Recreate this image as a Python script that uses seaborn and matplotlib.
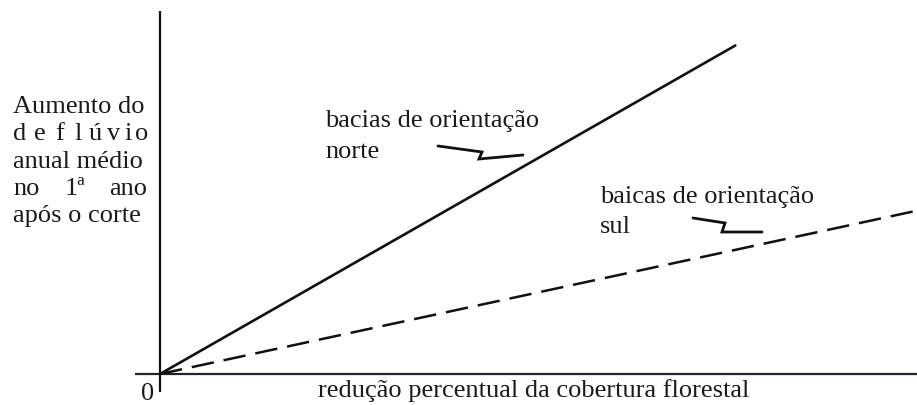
import matplotlib
matplotlib.use("Agg")
import matplotlib.pyplot as plt
from matplotlib.lines import Line2D
import numpy as np
import pandas as pd
import seaborn as sns

# Schematic relationship: runoff increase vs. percent forest-cover reduction
reducao_norte = [0, 76]
aumento_norte = [0, 90.5]
reducao_sul = [0, 100]
aumento_sul = [0, 45]

rotulo_x = "redução percentual da cobertura florestal"
rotulo_y_linhas = ["Aumento do", "deflúvio", "anual médio", "no 1ª ano", "após o corte"]
texto_norte = ["bacias de orientação", "norte"]
texto_sul = ["baicas de orientação", "sul"]

# Zig-zag leader strokes (figure pixels, origin top-left)
raio_norte = [(438, 147), (482, 153), (479, 160), (523, 156)]
raio_sul = [(693, 219), (725, 224), (722, 233), (762, 233)]

W, H = 917, 406
sns.set_theme(style="white")
plt.rcParams["font.family"] = ["Liberation Serif", "DejaVu Serif"]
TXT = "#1a1a1a"
FS = 19

fig = plt.figure(figsize=(W / 100, H / 100), dpi=100)
fig.patch.set_facecolor("white")

# axes box in pixels: x 135..917, y 12..393 (top-left origin)
left, right, top, bottom = 135, 917, 12, 393
ax = fig.add_axes([left / W, 1 - bottom / H, (right - left) / W, (bottom - top) / H])
ax.set_facecolor("white")

x0_px, y0_px = 160, 375
x_per_px = 100 / (917 - x0_px)
y_per_px = 100 / (y0_px - 12)
ax.set_xlim(-(x0_px - left) * x_per_px, (right - x0_px) * x_per_px)
ax.set_ylim(-(bottom - y0_px) * y_per_px, (y0_px - top) * y_per_px)

df_n = pd.DataFrame({"x": reducao_norte, "y": aumento_norte})
df_s = pd.DataFrame({"x": reducao_sul, "y": aumento_sul})
sns.lineplot(data=df_n, x="x", y="y", ax=ax, color="#111111", linewidth=1.9,
             solid_capstyle="round")
sns.lineplot(data=df_s, x="x", y="y", ax=ax, color="#111111", linewidth=1.8,
             dashes=False, linestyle=(0, (9, 4)))

ax.axhline(0, color="#222233", linewidth=1.6, zorder=1)
ax.axvline(0, color="#111111", linewidth=1.6, zorder=1)

for s in ax.spines.values():
    s.set_visible(False)
ax.set_xticks([])
ax.set_yticks([])
ax.set_xlabel("")
ax.set_ylabel("")


def fp(x, y):
    return x / W, 1 - y / H


def txt(x, y, s, ha="left"):
    fig.text(*fp(x, y), s, ha=ha, va="baseline", fontsize=FS, color=TXT)


# y-axis caption, justified lines
txt(13, 113, rotulo_y_linhas[0])
letras = list(rotulo_y_linhas[1])
pos_letras = [13, 34, 55, 74, 89, 107, 124, 135]
for c, px in zip(letras, pos_letras):
    txt(px, 140, c)
txt(13, 168, rotulo_y_linhas[2])
palavras = rotulo_y_linhas[3].split(" ")
txt(13, 195, palavras[0])
txt(65, 195, palavras[1])
txt(147, 195, palavras[2], ha="right")
txt(13, 222, rotulo_y_linhas[4])

# line captions
txt(325, 127, texto_norte[0])
txt(325, 158, texto_norte[1])
txt(600, 203, texto_sul[0])
txt(600, 233, texto_sul[1])

# origin and x caption
txt(141, 400, "0")
txt(318, 397, rotulo_x)

for pts in (raio_norte, raio_sul):
    xs = [p[0] / W for p in pts]
    ys = [1 - p[1] / H for p in pts]
    fig.add_artist(Line2D(xs, ys, transform=fig.transFigure, color="#111111",
                          linewidth=2.0, solid_joinstyle="miter"))

fig.savefig("out.png", dpi=100, facecolor="white")
